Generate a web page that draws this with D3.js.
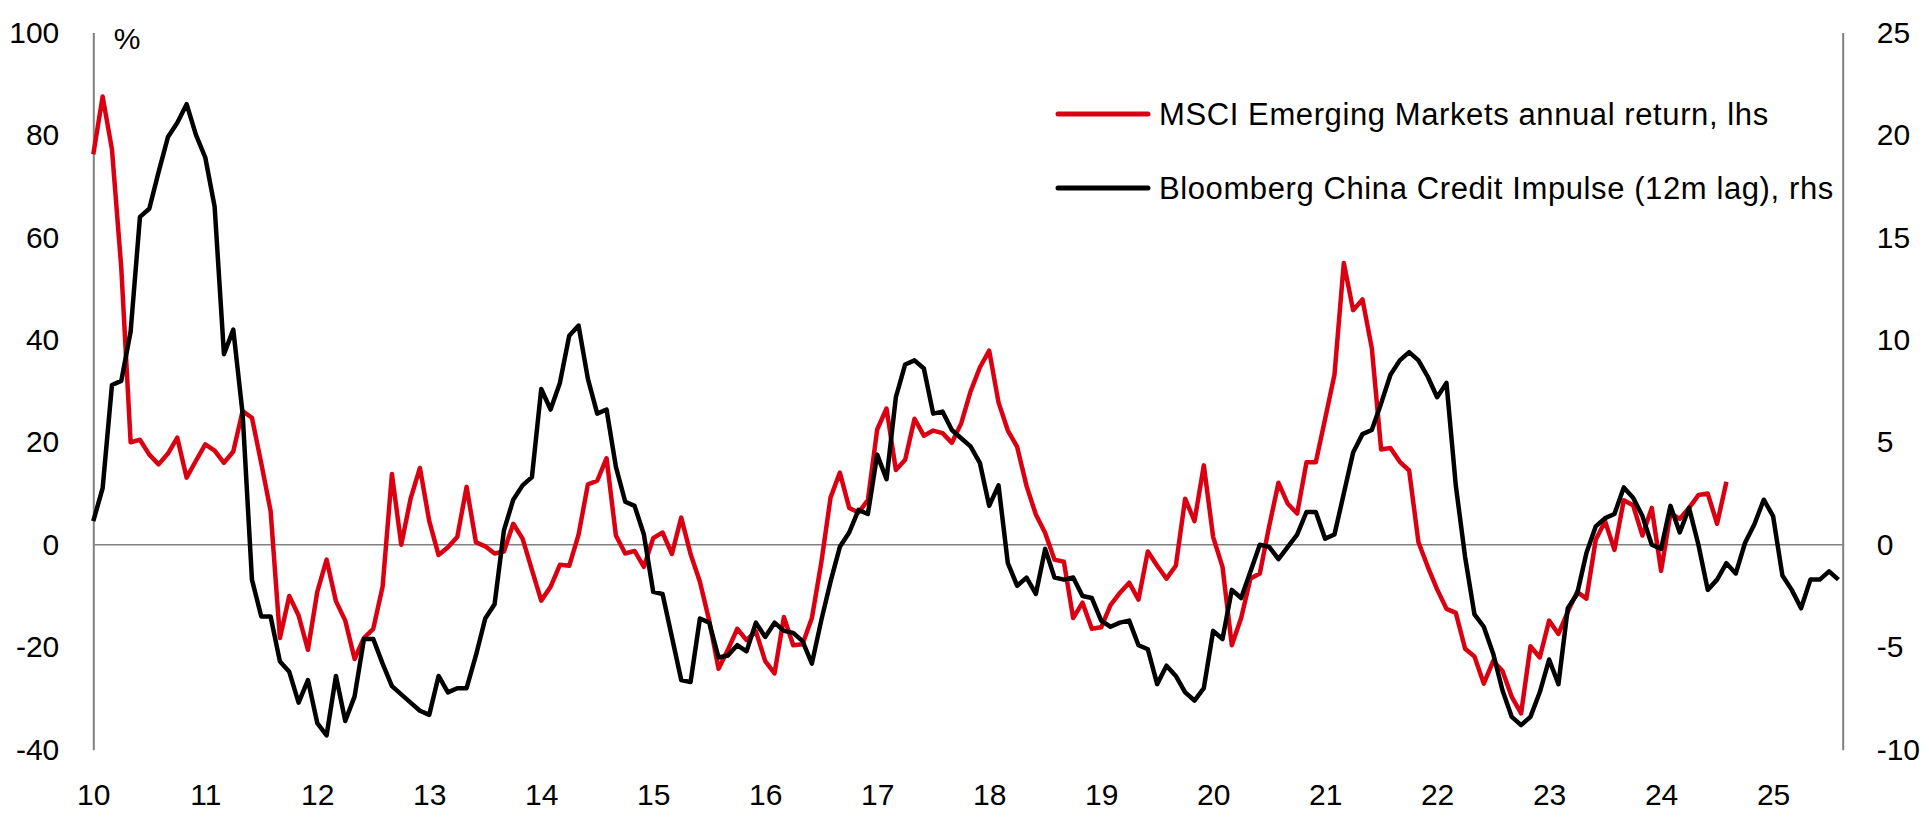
<!DOCTYPE html>
<html>
<head>
<meta charset="utf-8">
<script src="https://cdn.jsdelivr.net/npm/d3@7"></script>
<style>
  html, body { margin: 0; padding: 0; background: #fff; }
  svg text { font-family: "Liberation Sans", Arial, sans-serif; fill: #000; }
</style>
</head>
<body>
<svg id="chart" width="1929" height="822"></svg>
<script>
// ---- Data (monthly, starting Jan 2010) ----
const startYear = 2010;
const yearTicks = [2010, 2011, 2012, 2013, 2014, 2015, 2016, 2017, 2018, 2019, 2020, 2021, 2022, 2023, 2024, 2025];
const leftTicks = [-40, -20, 0, 20, 40, 60, 80, 100];
const rightTicks = [-10, -5, 0, 5, 10, 15, 20, 25];
const seriesNames = ["MSCI Emerging Markets annual return, lhs", "Bloomberg China Credit Impulse (12m lag), rhs"];

// MSCI EM annual return, % (lhs), Jan 2010 .. Aug 2024
const msciEM = [
  76.2, 87.5, 77.2, 54, 20, 20.5, 17.6, 15.7, 17.8, 20.9, 13.1, 16.4,
  19.6, 18.4, 16, 18.2, 26.1, 24.8, 15.9, 6.6, -18.2, -10, -13.8, -20.5,
  -9.2, -2.9, -11, -14.8, -22.3, -18.2, -16.4, -8.2, 13.8, 0, 9, 15,
  4.6, -2, -0.5, 1.5, 11.3, 0.5, -0.3, -1.7, -1.3, 4.1, 1.2, -4.9,
  -10.9, -8.2, -3.9, -4.1, 2, 11.8, 12.5, 16.9, 1.8, -1.7, -1.2, -4.3,
  1.3, 2.4, -1.8, 5.3, -1.8, -7.2, -14.8, -24.2, -20.5, -16.4, -18.6, -16.9,
  -22.7, -25.1, -14.1, -19.6, -19.4, -14.3, -3.6, 9.2, 14.1, 7.2, 6.3, 8.7,
  22.5, 26.6, 14.6, 16.6, 24.6, 21.3, 22.3, 21.8, 19.9, 23.7, 29.9, 34.6,
  37.9, 27.8, 22.3, 19.1, 11.5, 5.9, 2.3, -2.9, -3.3, -14.3, -11.3, -16.4,
  -16.1, -11.8, -9.4, -7.4, -10.7, -1.3, -4.1, -6.6, -4.1, 9, 4.6, 15.5,
  1.5, -4.3, -19.6, -14.3, -6.6, -5.6, 3.6, 12.1, 8, 6.1, 16.1, 16.1,
  24.6, 33.2, 55, 45.8, 47.9, 38.4, 18.6, 18.9, 16.2, 14.5, 0.5, -4.3,
  -8.7, -12.5, -13.3, -20.3, -21.8, -27.1, -22.7, -24.6, -29.7, -32.9, -19.8, -22,
  -14.8, -17.4, -13.1, -9.2, -10.5, 1, 4.6, -1, 8.7, 7.7, 1.8, 7.2,
  -5.1, 6.1, 5.1, 7.2, 9.7, 10, 4.1, 12.3
];

// Bloomberg China credit impulse, 12m lag (rhs), Jan 2010 .. Aug 2025
const creditImpulse = [
  1.15, 2.76, 7.8, 8.0, 10.4, 16.0, 16.4, 18.2, 19.9, 20.6, 21.5, 20.0,
  18.9, 16.5, 9.3, 10.5, 6.4, -1.7, -3.5, -3.5, -5.7, -6.2, -7.7, -6.6,
  -8.7, -9.3, -6.4, -8.6, -7.4, -4.6, -4.6, -5.8, -6.9, -7.3, -7.7, -8.1,
  -8.3, -6.4, -7.2, -7.0, -7.0, -5.4, -3.6, -2.9, 0.7, 2.2, 2.9, 3.3,
  7.6, 6.6, 7.9, 10.2, 10.7, 8.1, 6.4, 6.6, 3.8, 2.1, 1.9, 0.5,
  -2.3, -2.4, -4.5, -6.6, -6.7, -3.6, -3.8, -5.5, -5.4, -4.9, -5.2, -3.8,
  -4.5, -3.8, -4.2, -4.3, -4.7, -5.8, -3.7, -1.8, -0.1, 0.6, 1.7, 1.5,
  4.4, 3.2, 7.2, 8.8, 9.0, 8.6, 6.4, 6.5, 5.6, 5.2, 4.8, 4.0,
  1.9, 2.9, -0.9, -2.0, -1.6, -2.4, -0.2, -1.6, -1.7, -1.6, -2.5, -2.6,
  -3.7, -4.0, -3.8, -3.7, -4.9, -5.1, -6.8, -5.9, -6.4, -7.2, -7.6, -7.0,
  -4.2, -4.6, -2.2, -2.6, -1.3, 0, -0.1, -0.7, -0.1, 0.5, 1.6, 1.6,
  0.3, 0.5, 2.5, 4.5, 5.4, 5.6, 6.9, 8.3, 9.0, 9.4, 9.0, 8.2,
  7.2, 7.9, 2.9, -0.6, -3.4, -4.0, -5.3, -7.1, -8.4, -8.8, -8.4, -7.2,
  -5.6, -6.8, -3.1, -2.4, -0.4, 0.9, 1.3, 1.5, 2.8, 2.3, 1.4, 0,
  -0.2, 1.9, 0.6, 1.8, 0, -2.2, -1.7, -0.9, -1.4, 0.1, 1.0, 2.2,
  1.4, -1.5, -2.2, -3.1, -1.7, -1.7, -1.3, -1.7
];

// ---- Layout ----
const plot = { left: 93.3, right: 1842.7, top: 32.5, bottom: 749.7 };
const RED = "#db0011", BLACK = "#000000", GREY = "#808080";
const FONT = 30;

const svg = d3.select("#chart");

const x = d3.scaleLinear()
  .domain([startYear, startYear + 187.46 / 12])
  .range([plot.left, plot.right]);
const yL = d3.scaleLinear().domain([-40, 100]).range([plot.bottom, plot.top]);
const yR = d3.scaleLinear().domain([-10, 25]).range([plot.bottom, plot.top]);

const t = i => startYear + i / 12;
const fmt = d => String(d);

// zero line
svg.append("line")
  .attr("x1", plot.left).attr("x2", plot.right)
  .attr("y1", yL(0)).attr("y2", yL(0))
  .attr("stroke", GREY).attr("stroke-width", 1.6);

// left axis
const gL = svg.append("g").attr("transform", `translate(${plot.left},0)`)
  .call(d3.axisLeft(yL).tickValues(leftTicks).tickSize(0).tickPadding(34).tickFormat(fmt));
gL.select(".domain").attr("stroke", GREY).attr("stroke-width", 2);
gL.selectAll("text").style("font-size", FONT + "px").attr("font-family", null);

// right axis
const gR = svg.append("g").attr("transform", `translate(${plot.right},0)`)
  .call(d3.axisRight(yR).tickValues(rightTicks).tickSize(0).tickPadding(34).tickFormat(fmt));
gR.select(".domain").attr("stroke", GREY).attr("stroke-width", 2);
gR.selectAll("text").style("font-size", FONT + "px").attr("font-family", null);

// x axis (labels only)
const gX = svg.append("g").attr("transform", `translate(0,${plot.bottom})`)
  .call(d3.axisBottom(x).tickValues(yearTicks).tickSize(0).tickFormat(d => String(d).slice(2)));
gX.select(".domain").remove();
gX.selectAll("text").style("font-size", FONT + "px").attr("font-family", null)
  .attr("dy", null).attr("y", 44.5).attr("dominant-baseline", "central");

// unit label
svg.append("text").attr("x", 127).attr("y", 38)
  .attr("text-anchor", "middle").attr("dominant-baseline", "central")
  .style("font-size", FONT + "px").text("%");

// lines
const lineL = d3.line().x((d, i) => x(t(i))).y(d => yL(d));
const lineR = d3.line().x((d, i) => x(t(i))).y(d => yR(d));

svg.append("path").datum(msciEM)
  .attr("d", lineL).attr("fill", "none")
  .attr("stroke", RED).attr("stroke-width", 4.5).attr("stroke-linejoin", "round");

svg.append("path").datum(creditImpulse)
  .attr("d", lineR).attr("fill", "none")
  .attr("stroke", BLACK).attr("stroke-width", 4.5).attr("stroke-linejoin", "round");

// legend
const legend = svg.append("g");
const legendItems = [
  { name: seriesNames[0], color: RED, y: 114 },
  { name: seriesNames[1], color: BLACK, y: 188 }
];
legendItems.forEach(it => {
  legend.append("line")
    .attr("x1", 1058).attr("x2", 1148).attr("y1", it.y).attr("y2", it.y)
    .attr("stroke", it.color).attr("stroke-width", 5).attr("stroke-linecap", "round");
  legend.append("text")
    .attr("x", 1159).attr("y", it.y).attr("dominant-baseline", "central")
    .style("font-size", "31px").style("letter-spacing", "0.6px")
    .text(it.name);
});
</script>
</body>
</html>
